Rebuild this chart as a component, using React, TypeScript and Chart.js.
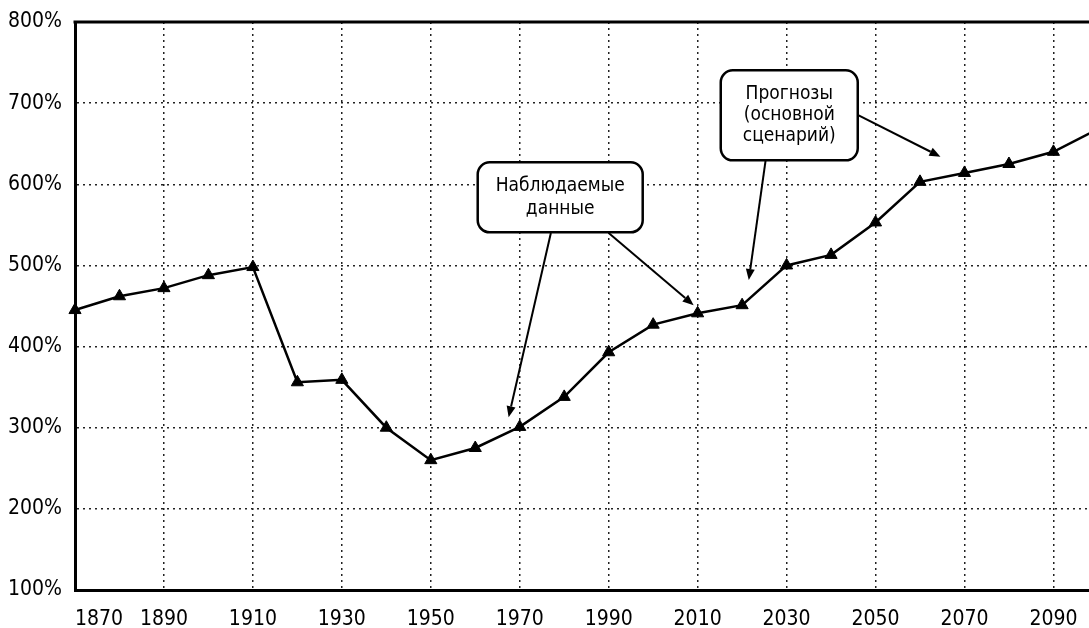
import React, { useEffect, useRef } from 'react';
import { Chart, registerables } from 'chart.js';

Chart.register(...registerables);

// ---- data ----
const years = [1870, 1880, 1890, 1900, 1910, 1920, 1930, 1940, 1950, 1960, 1970, 1980, 1990, 2000, 2010, 2020, 2030, 2040, 2050, 2060, 2070, 2080, 2090, 2100];
const ratioPercent = [445, 462, 472, 488, 498, 356, 359, 300, 260, 275, 301, 338, 393, 427, 441, 451, 500, 513, 553, 603, 614, 625, 640, 668];
const xTickYears = [1870, 1890, 1910, 1930, 1950, 1970, 1990, 2010, 2030, 2050, 2070, 2090];
const yTickValues = [100, 200, 300, 400, 500, 600, 700, 800];
const X_MIN = 1870;
const X_MAX = 2098;

const observedLabel = ['Наблюдаемые', 'данные'];
const forecastLabel = ['Прогнозы', '(основной', 'сценарий)'];

const FONT = "'Liberation Sans Narrow', 'DejaVu Sans Condensed', 'Arial Narrow', sans-serif";

// callouts in data coordinates (year, percent)
const callouts = [
  {
    lines: observedLabel, cx: 1979.1, cy: 584, w: 165, h: 70, lineH: 23,
    arrows: [[1977.0, 540, 1967.5, 313], [1990.0, 540, 2009.1, 451]],
  },
  {
    lines: forecastLabel, cx: 2030.6, cy: 685, w: 137, h: 90, lineH: 21,
    arrows: [[2046.2, 685, 2064.6, 634], [2025.3, 630, 2021.5, 482]],
  },
];

const annotationPlugin = {
  id: 'annotations',
  afterDraw(chart: any) {
    const { ctx, chartArea, scales } = chart;
    const xs = scales.x, ys = scales.y;
    ctx.save();
    // top border
    ctx.strokeStyle = '#000';
    ctx.lineWidth = 3;
    ctx.beginPath();
    ctx.moveTo(chartArea.left - 1.5, chartArea.top);
    ctx.lineTo(chartArea.right, chartArea.top);
    ctx.stroke();

    for (const c of callouts) {
      for (const a of c.arrows) {
        const x1 = xs.getPixelForValue(a[0]);
        const y1 = ys.getPixelForValue(a[1]);
        const x2 = xs.getPixelForValue(a[2]);
        const y2 = ys.getPixelForValue(a[3]);
        const ang = Math.atan2(y2 - y1, x2 - x1);
        const hl = 11, hw = 4.5;
        const bx = x2 - hl * Math.cos(ang);
        const by = y2 - hl * Math.sin(ang);
        ctx.strokeStyle = '#000';
        ctx.lineWidth = 2;
        ctx.beginPath();
        ctx.moveTo(x1, y1);
        ctx.lineTo(bx, by);
        ctx.stroke();
        ctx.fillStyle = '#000';
        ctx.beginPath();
        ctx.moveTo(x2, y2);
        ctx.lineTo(bx + hw * Math.sin(ang), by - hw * Math.cos(ang));
        ctx.lineTo(bx - hw * Math.sin(ang), by + hw * Math.cos(ang));
        ctx.closePath();
        ctx.fill();
      }
      const cx = xs.getPixelForValue(c.cx);
      const cy = ys.getPixelForValue(c.cy);
      const l = cx - c.w / 2, t = cy - c.h / 2;
      ctx.beginPath();
      ctx.roundRect(l, t, c.w, c.h, 12);
      ctx.fillStyle = '#fff';
      ctx.fill();
      ctx.lineWidth = 2.5;
      ctx.strokeStyle = '#000';
      ctx.stroke();
      ctx.fillStyle = '#000';
      ctx.font = `19px ${FONT}`;
      ctx.textAlign = 'center';
      ctx.textBaseline = 'middle';
      const n = c.lines.length;
      c.lines.forEach((s: string, i: number) => {
        ctx.fillText(s, cx, cy + (i - (n - 1) / 2) * c.lineH);
      });
    }
    ctx.restore();
  },
};

export default function App() {
  const ref = useRef<HTMLCanvasElement | null>(null);
  useEffect(() => {
    document.body.style.margin = '0';
    const chart = new Chart(ref.current as HTMLCanvasElement, {
      type: 'line',
      data: {
        datasets: [
          {
            data: years.map((y, i) => ({ x: y, y: ratioPercent[i] })),
            borderColor: '#000',
            borderWidth: 2.5,
            backgroundColor: '#000',
            pointStyle: 'triangle',
            pointRadius: 7,
            pointBorderWidth: 1,
            pointBorderColor: '#000',
            pointBackgroundColor: '#000',
            tension: 0,
            clip: { left: 10, top: 10, bottom: 10, right: 0 },
          },
        ],
      },
      options: {
        animation: false,
        responsive: false,
        layout: { autoPadding: false, padding: { top: 22, left: 0, right: 0, bottom: 0 } },
        plugins: { legend: { display: false }, tooltip: { enabled: false } },
        scales: {
          x: {
            type: 'linear',
            min: X_MIN,
            max: X_MAX,
            afterBuildTicks: (scale: any) => {
              scale.ticks = [...xTickYears, X_MAX].map((v) => ({ value: v }));
            },
            afterFit: (scale: any) => {
              scale.height = 38;
              scale.paddingLeft = 0;
              scale.paddingRight = 0;
            },
            ticks: {
              autoSkip: false,
              maxRotation: 0,
              align: 'inner',
              padding: 17,
              color: '#000',
              font: { family: FONT, size: 21 },
              callback: (v: any) => (v === X_MAX ? '' : String(v)),
            },
            grid: {
              drawTicks: false,
              color: (ctx: any) => (ctx.tick && ctx.tick.value === X_MAX ? 'rgba(0,0,0,0)' : '#222'),
              lineWidth: 1.5,
            },
            border: { color: '#000', width: 3, dash: [2, 4] },
          },
          y: {
            type: 'linear',
            min: 100,
            max: 800,
            afterBuildTicks: (scale: any) => {
              scale.ticks = yTickValues.map((v) => ({ value: v }));
            },
            afterFit: (scale: any) => {
              scale.width = 75;
              scale.paddingTop = 0;
              scale.paddingBottom = 0;
            },
            ticks: {
              padding: 13,
              color: '#000',
              font: { family: FONT, size: 21 },
              callback: (v: any) => `${v}%`,
            },
            grid: { drawTicks: false, color: '#222', lineWidth: 1.5 },
            border: { color: '#000', width: 3, dash: [2, 4] },
          },
        },
      },
      plugins: [annotationPlugin],
    } as any);
    return () => chart.destroy();
  }, []);
  return (
    <div style={{ position: 'fixed', left: 0, top: 0, width: 1089, height: 628, background: '#fff', overflow: 'hidden' }}>
      <canvas ref={ref} width={1089} height={628} style={{ display: 'block' }} />
    </div>
  );
}
